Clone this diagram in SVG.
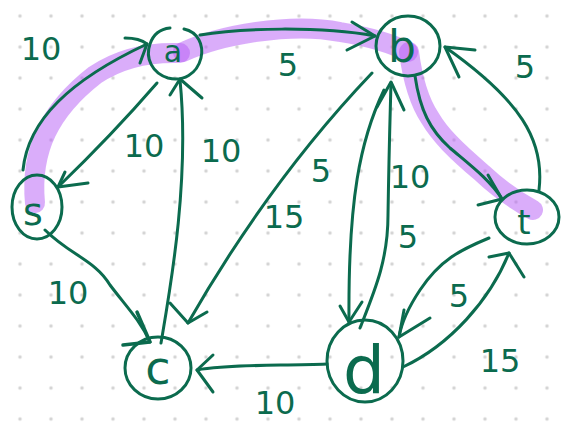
<svg xmlns="http://www.w3.org/2000/svg" width="564" height="431" viewBox="0 0 564 431">
<defs>
<pattern id="dots" x="4.5" y="0.5" width="31" height="31" patternUnits="userSpaceOnUse">
<circle cx="15.5" cy="15.5" r="1.7" fill="#d2d2d2"/>
</pattern>
<style>
.hl{fill:none;stroke:#b65cf5;stroke-opacity:0.5;stroke-width:20;stroke-linecap:round;stroke-linejoin:round}
.e{fill:none;stroke:#0b6b4e;stroke-width:3;stroke-linecap:round;stroke-linejoin:round}
.n{fill:none;stroke:#0b6b4e;stroke-width:3;stroke-linecap:round}
.lb{fill:#0b6b4e;font-family:"DejaVu Sans",sans-serif;text-anchor:middle}
.w{fill:#0b6b4e;font-family:"DejaVu Sans",sans-serif;font-size:32px;text-anchor:middle}
</style>
</defs>
<rect width="564" height="431" fill="#ffffff"/>
<rect width="564" height="431" fill="url(#dots)"/>

<g id="highlight">
<path class="hl" d="M35,203 C30,150 50,110 95,75 C120,58 150,52 180,53"/>
<path class="hl" d="M183,52 C220,35 290,22 340,32 C370,37 395,45 408,52"/>
<path class="hl" d="M409,52 C412,75 418,100 430,118 C440,135 455,150 482,173 C500,190 515,200 533,210"/>
</g>

<g id="connectors">
<path class="e" d="M23,170 C28,120 70,80 147,44"/>
<path class="e" d="M125,38 C135,38 142,40 147,44 L140,63"/>
<path class="e" d="M200,35 C240,28 320,26 375,36"/>
<path class="e" d="M352,22 L375,36 L347,50"/>
<path class="e" d="M157,83 Q112,135 58,187"/>
<path class="e" d="M65,172 L58,187 L88,183"/>
<path class="e" d="M161,343 C170,290 190,180 180,80"/>
<path class="e" d="M170,95 L180,79 L202,98"/>
<path class="e" d="M372,73 Q270,180 188,323"/>
<path class="e" d="M170,303 L188,323 L207,312"/>
<path class="e" d="M45,230 C70,255 95,260 110,285 C125,305 140,320 150,342"/>
<path class="e" d="M137,312 L150,342 L123,345" style="stroke-width:3.5"/>
<path class="e" d="M327,364 C280,366 230,364 197,370"/>
<path class="e" d="M213,355 L197,370 L213,392"/>
<path class="e" d="M403,367 C450,345 490,300 509,253"/>
<path class="e" d="M489,257 L509,253 L524,277"/>
<path class="e" d="M489,238 C460,250 440,260 420,290 C410,305 402,320 399,337"/>
<path class="e" d="M404,310 L399,337 L430,318"/>
<path class="e" d="M384,90 C360,140 348,200 349,322"/>
<path class="e" d="M340,306 L349,322 L362,302"/>
<path class="e" d="M360,328 C375,290 388,260 388,215 C389,150 390,120 391,83"/>
<path class="e" d="M377,107 L391,82 L404,110"/>
<path class="e" d="M539,190 C545,140 520,100 445,47"/>
<path class="e" d="M475,50 L445,47 L459,77"/>
<path class="e" d="M415,76 C420,110 430,130 450,148 C470,165 490,180 502,199"/>
<path class="e" d="M488,175 L502,199 L478,205"/>
</g>

<g id="node-a">
<path class="n" d="M184,29 C198,32 204,45 201,58 C197,74 183,82 168,78 C152,73 145,58 150,44 C153,35 160,29 170,28"/>
<text class="lb" x="173" y="62" font-size="30">a</text>
</g>
<g id="node-b">
<ellipse class="n" cx="408" cy="46" rx="32" ry="30"/>
<text class="lb" x="402" y="62" font-size="44">b</text>
</g>
<g id="node-s">
<ellipse class="n" cx="37" cy="207" rx="25" ry="32"/>
<text class="lb" x="33" y="225" font-size="38">s</text>
</g>
<g id="node-t">
<ellipse class="n" cx="527" cy="217" rx="32" ry="27"/>
<text class="lb" x="524" y="234" font-size="34">t</text>
</g>
<g id="node-c">
<ellipse class="n" cx="158" cy="368" rx="33" ry="31"/>
<text class="lb" x="158" y="384" font-size="46">c</text>
</g>
<g id="node-d">
<ellipse class="n" cx="365" cy="361" rx="38" ry="41"/>
<text class="lb" x="364" y="393" font-size="66">d</text>
</g>

<g id="labels">
<text class="w" x="41" y="60">10</text>
<text class="w" x="288" y="76">5</text>
<text class="w" x="144" y="157">10</text>
<text class="w" x="221" y="162">10</text>
<text class="w" x="321" y="182">5</text>
<text class="w" x="284" y="228">15</text>
<text class="w" x="410" y="188" font-size="38">10</text>
<text class="w" x="408" y="248">5</text>
<text class="w" x="68" y="304">10</text>
<text class="w" x="275" y="414">10</text>
<text class="w" x="459" y="307">5</text>
<text class="w" x="500" y="372">15</text>
<text class="w" x="525" y="78">5</text>
</g>
</svg>
